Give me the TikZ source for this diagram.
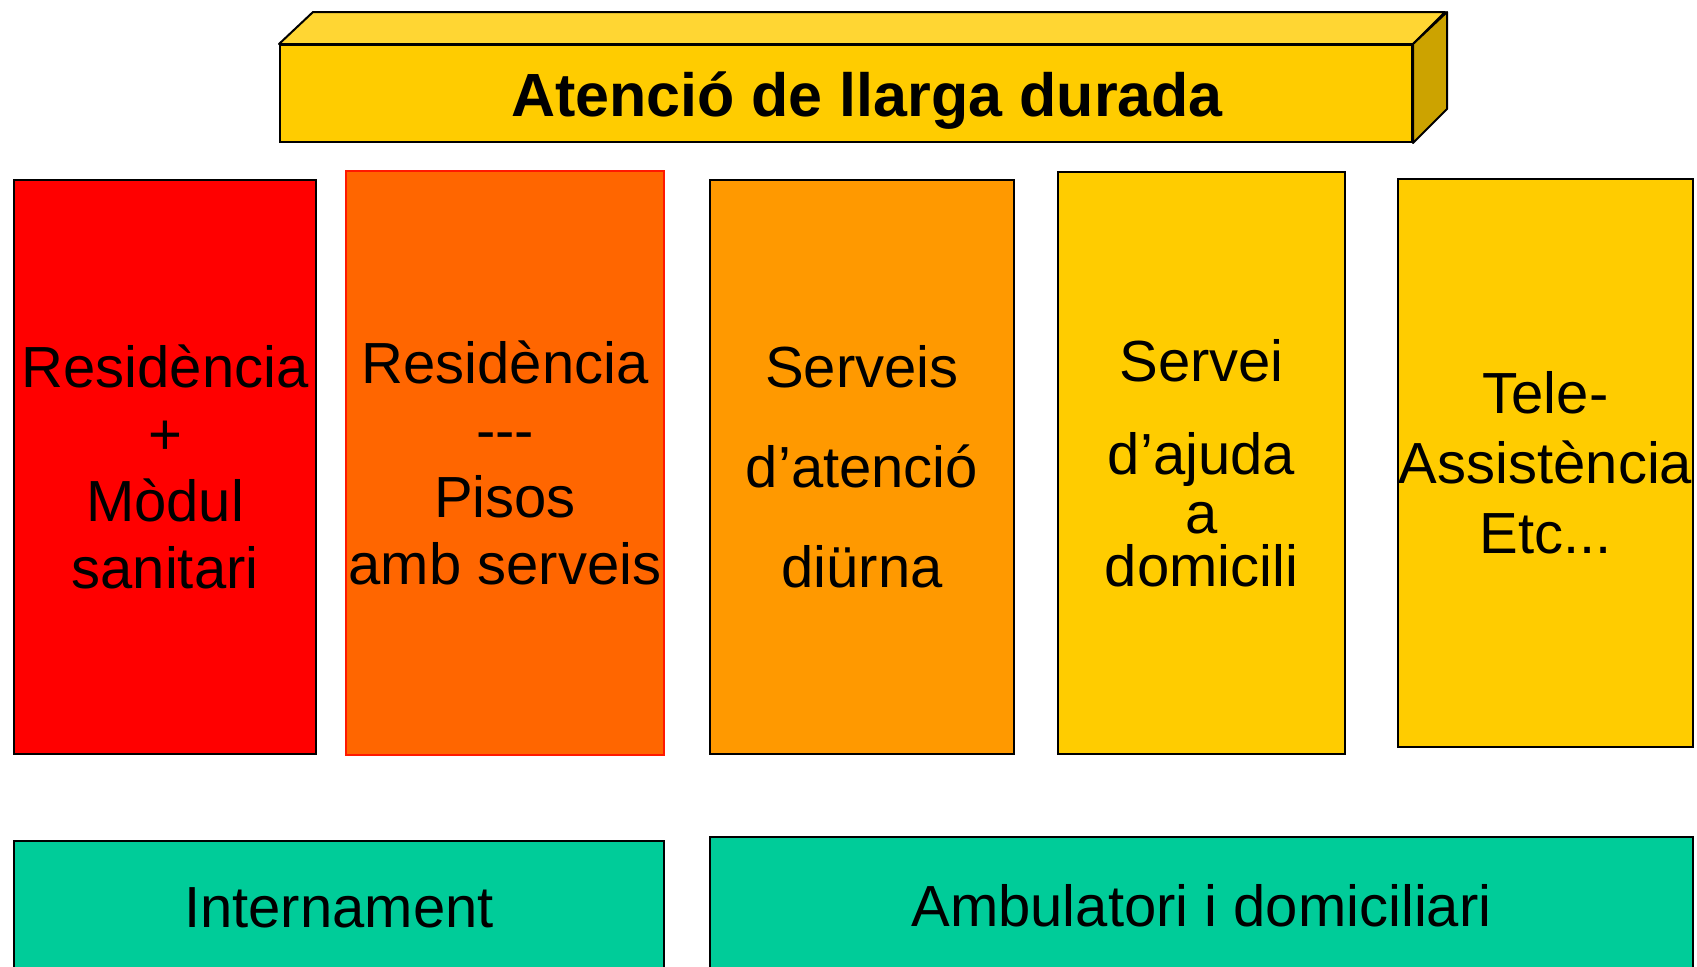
\documentclass[tikz,border=0pt]{standalone}
\usepackage{fontspec}
\setmainfont{Liberation Sans}
\definecolor{bargold}{HTML}{FFCC00}
\definecolor{bartop}{HTML}{FFD633}
\definecolor{barside}{HTML}{CCA300}
\definecolor{colred}{HTML}{FF0000}
\definecolor{colorange}{HTML}{FF6600}
\definecolor{colamber}{HTML}{FF9900}
\definecolor{colgold}{HTML}{FFCC00}
\definecolor{colteal}{HTML}{00CC99}
\begin{document}
\begin{tikzpicture}[x=0.5pt,y=-0.5pt,
	box/.style={draw=black,line width=1pt,inner sep=0pt,align=center,font=\fontsize{29}{33.5}\selectfont},
	face/.style={draw=black,line width=1pt,line join=round}]
		\useasboundingbox (0,0) rectangle (1697,966);
		\clip (0,0) rectangle (1697,966);
		% the bar on top
		\node[box, fill=bargold, minimum width=566pt, minimum height=48.5pt] (bar) at (846,93.5) {};
		\draw[face, fill=bartop] (bar.north west) -- ++(34,-32) -- ++(1132,0) -- (bar.north east) -- cycle;
		\draw[face, fill=barside] (bar.north east) -- ++(34,-32) -- ++(0,97) -- (bar.south east) -- cycle;
		\node[anchor=base, font=\fontsize{30.5}{36}\selectfont\bfseries] (bartext) at (867,116) {Atenció de llarga durada};
		% the five columns
		\node[box, fill=colred, minimum width=151pt, minimum height=287pt] (resmod) at (165,467) {Residència\\+\\Mòdul\\sanitari};
		\node[box, fill=colorange, draw=red!80!orange, minimum width=159pt, minimum height=292pt] (respis) at (505,463) {Residència\\-{}-{}-\\Pisos\\amb serveis};
		\node[box, fill=colamber, minimum width=152pt, minimum height=287pt, font=\fontsize{29}{50}\selectfont] (diurn) at (862,467) {Serveis\\d’atenció\\diürna};
		\node[box, fill=colgold, minimum width=143.5pt, minimum height=291pt, font=\fontsize{29}{26.5}\selectfont] (sad) at (1201.5,463) {Servei\\[20pt]d’ajuda\\[3pt]a\\domicili};
		\node[box, fill=colgold, minimum width=147.5pt, minimum height=284pt, font=\fontsize{29}{35}\selectfont] (tele) at (1545.5,463) {Tele-\\Assistència\\Etc...};
		% the two groups below
		\node[box, fill=colteal, minimum width=325pt, minimum height=67pt] (intern) at (339,908) {Internament};
		\node[box, fill=colteal, minimum width=491.5pt, minimum height=69pt] (ambul) at (1201.5,906) {Ambulatori i domiciliari};
		\end{tikzpicture}
\end{document}
